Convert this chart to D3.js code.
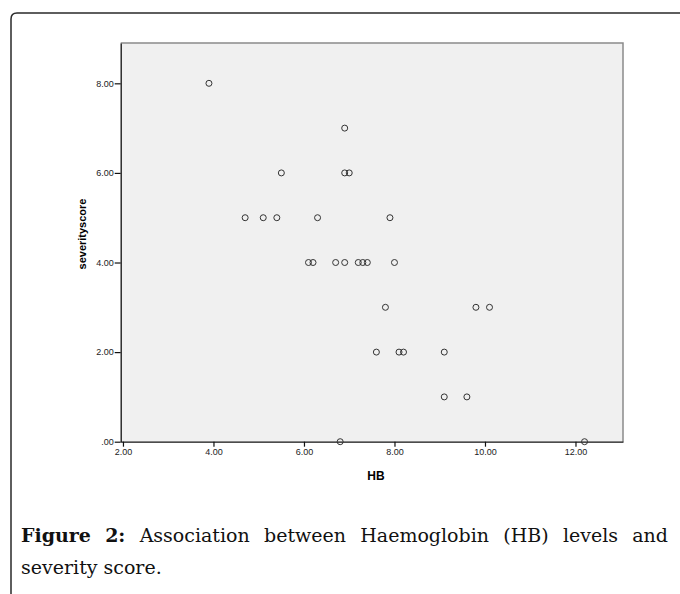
<!DOCTYPE html>
<html>
<head>
<meta charset="utf-8">
<script src="https://cdn.jsdelivr.net/npm/d3@7"></script>
<style>
  body { margin: 0; background: #ffffff; }
  svg { display: block; }
</style>
</head>
<body>
<div id="chart"></div>
<script>
/* DATA */
// HB level of each patient, grouped by severity score row
const hbValues = [3.9, 6.9, 5.5, 6.9, 7.0, 4.7, 5.1, 5.4, 6.3, 7.9,
  6.1, 6.2, 6.7, 6.9, 7.2, 7.3, 7.4, 8.0, 7.8, 9.8, 10.1,
  7.6, 8.1, 8.2, 9.1, 9.1, 9.6, 6.8, 12.2];
const severityScores = [8, 7, 6, 6, 6, 5, 5, 5, 5, 5,
  4, 4, 4, 4, 4, 4, 4, 4, 3, 3, 3,
  2, 2, 2, 2, 1, 1, 0, 0];
const xTicks = [2, 4, 6, 8, 10, 12];
const yTicks = [0, 2, 4, 6, 8];
const captionBold = ["Figure", "2:"];
const captionLine1 = ["Association", "between", "Haemoglobin", "(HB)", "levels", "and"];
const captionLine2 = "severity score.";

/* CONSTANTS */
const width = 680,
  height = 594,
  plot = { left: 120.7, right: 623, top: 43, bottom: 441.7 };

const points = hbValues.map((hb, i) => ({ hb: hb, score: severityScores[i] }));

const svg = d3.select("#chart")
  .append("svg")
  .attr("width", width)
  .attr("height", height);

// outer frame (rounded top-left corner, runs off the page)
svg.append("path")
  .attr("d", "M11,594 L11,19 Q11,13 17,13 L680,13")
  .attr("fill", "none")
  .attr("stroke", "#2a2a2a")
  .attr("stroke-width", 1.5);

// SCALES
const xScale = d3.scaleLinear()
  .domain([1.95, 13.05])
  .range([plot.left, plot.right]);

const yScale = d3.scaleLinear()
  .domain([0, 8.9])
  .range([plot.bottom, plot.top]);

const fmt = d => d === 0 ? ".00" : d3.format(".2f")(d);

// plot background
svg.append("rect")
  .attr("x", plot.left)
  .attr("y", plot.top)
  .attr("width", plot.right - plot.left)
  .attr("height", plot.bottom - plot.top)
  .attr("fill", "#f0f0f0");

// top and right border
svg.append("path")
  .attr("d", `M${plot.left},${plot.top} H${plot.right} V${plot.bottom}`)
  .attr("fill", "none")
  .attr("stroke", "#8a8a8a")
  .attr("stroke-width", 1.5);

//AXES
const xAxis = d3.axisBottom(xScale)
  .tickValues(xTicks)
  .tickFormat(fmt)
  .tickSizeInner(5)
  .tickSizeOuter(0)
  .tickPadding(2);

const yAxis = d3.axisLeft(yScale)
  .tickValues(yTicks)
  .tickFormat(fmt)
  .tickSizeInner(6)
  .tickSizeOuter(0)
  .tickPadding(1);

const gx = svg.append("g")
  .attr("transform", `translate(0, ${plot.bottom})`)
  .call(xAxis);

const gy = svg.append("g")
  .attr("transform", `translate(${plot.left}, 0)`)
  .call(yAxis);

[gx, gy].forEach(g => {
  g.select(".domain").attr("stroke", "#111").attr("stroke-width", 1.3);
  g.selectAll(".tick line").attr("stroke", "#111").attr("stroke-width", 1.2);
  g.selectAll(".tick text")
    .attr("fill", "#222")
    .attr("font-family", "Liberation Sans, Arial, sans-serif")
    .attr("font-size", 9);
});

// axis titles
svg.append("text")
  .attr("x", 376)
  .attr("y", 480)
  .attr("text-anchor", "middle")
  .attr("font-family", "Liberation Sans, Arial, sans-serif")
  .attr("font-weight", "bold")
  .attr("font-size", 12)
  .text("HB");

svg.append("text")
  .attr("transform", "translate(86, 234) rotate(-90)")
  .attr("text-anchor", "middle")
  .attr("font-family", "Liberation Sans, Arial, sans-serif")
  .attr("font-weight", "bold")
  .attr("font-size", 11)
  .text("severityscore");

// points
svg.selectAll("circle.pt")
  .data(points)
  .join("circle")
  .attr("class", "pt")
  .attr("cx", d => xScale(d.hb))
  .attr("cy", d => yScale(d.score))
  .attr("r", 3)
  .attr("fill", "none")
  .attr("stroke", "#333")
  .attr("stroke-width", 1);

// CAPTION (first line justified word by word)
const capFont = "DejaVu Serif, serif";
const capSize = 19;
const capLeft = 21, capRight = 668;

const words = captionBold.map(w => ({ w: w, bold: true }))
  .concat(captionLine1.map(w => ({ w: w, bold: false })));

const wordText = svg.append("g").selectAll("text")
  .data(words)
  .join("text")
  .attr("y", 542)
  .attr("font-family", capFont)
  .attr("font-size", capSize)
  .attr("font-weight", d => d.bold ? "bold" : "normal")
  .attr("fill", "#111")
  .text(d => d.w);

const widths = [];
wordText.each(function() { widths.push(this.getComputedTextLength()); });
const gap = (capRight - capLeft - d3.sum(widths)) / (words.length - 1);
let xPos = capLeft;
wordText.attr("x", (d, i) => {
  const x = xPos;
  xPos += widths[i] + gap;
  return x;
});

svg.append("text")
  .attr("x", capLeft)
  .attr("y", 574)
  .attr("font-family", capFont)
  .attr("font-size", capSize)
  .attr("fill", "#111")
  .text(captionLine2);
</script>
</body>
</html>
